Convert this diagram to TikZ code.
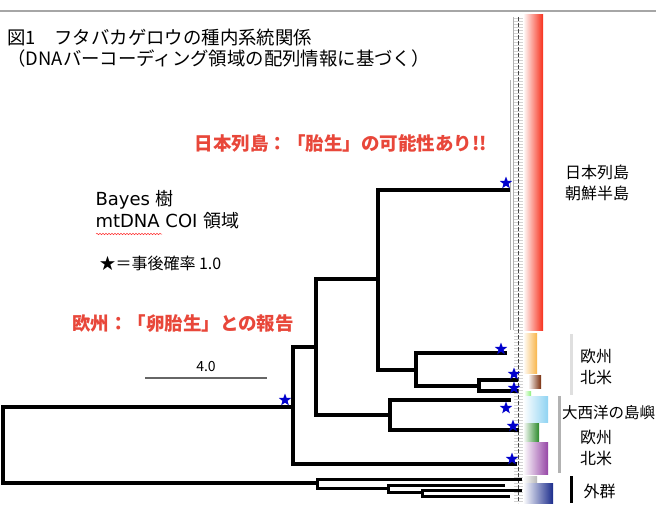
\documentclass[tikz,border=0pt]{standalone}
\usepackage{fontspec}
\setmainfont{Noto Sans CJK JP}
\newfontfamily\latinfont{DejaVu Sans}
\usetikzlibrary{shapes.geometric,positioning,calc,decorations.pathmorphing}
\usepackage{xcolor}
\definecolor{notered}{HTML}{E8473A}
\definecolor{cred}{HTML}{F7301C}
\definecolor{corange}{HTML}{F8B54A}
\definecolor{cbrown}{HTML}{7A2E0C}
\definecolor{clgreen}{HTML}{8CF07A}
\definecolor{clblue}{HTML}{8FD3F2}
\definecolor{cgreen}{HTML}{2C8A2C}
\definecolor{cpurple}{HTML}{9646A6}
\definecolor{cgray}{HTML}{B8B8B8}
\definecolor{cnavy}{HTML}{1B2C8C}
\tikzstyle{branch}=[draw,line width=3.2pt,line join=miter,black]
\tikzstyle{out branch}=[branch,line width=3pt]
\tikzstyle{fine}=[draw,gray!60,line width=0.5pt]
\tikzstyle{post}=[star,star points=5,star point ratio=2.4,fill=blue!80!black,minimum size=13pt,inner sep=0pt]
\tikzstyle{note}=[text=notered,font=\bfseries\fontsize{18.5}{22}\selectfont]
\tikzstyle{title}=[font=\fontsize{18.4}{21}\selectfont,align=left]
\tikzstyle{info}=[font=\fontsize{18}{22}\selectfont,align=left]
\tikzstyle{region}=[font=\fontsize{16}{21}\selectfont,align=center]
\tikzstyle{region bar}=[draw,line width=3pt]

\begin{document}
\begin{tikzpicture}[x=1pt,y=-1pt]
    \useasboundingbox (0,0) rectangle (656,508);
    \draw[gray!70,line width=1.2pt] (0,11) -- (656,11);

    % Texts
    \node[title,anchor=north west] (title) at (4,26) {図1　フタバカゲロウの種内系統関係\\（DNAバーコーディング領域の配列情報に基づく）};
    \node[note] (jp_note) at (341,143) {日本列島：「胎生」の可能性あり!!};
    \node[note] (eu_note) at (183,324) {欧州：「卵胎生」との報告};
    \node[info,anchor=north west] (bayes) at (92,187) {{\latinfont Bayes }樹\\{\latinfont mtDNA COI }領域};
    \node[info,font=\fontsize{16}{19}\selectfont,anchor=west] (pp) at (96,263) {★＝事後確率 1.0};
    \draw[red!80,line width=0.5pt,decorate,decoration={snake,amplitude=0.7pt,segment length=3pt}] (96,234) -- (162,234);

    % Scale bar
    \coordinate (sb_l) at (145,378);
    \coordinate (sb_r) at (267,378);
    \draw[gray!80!black,line width=1.4pt] (sb_l) -- (sb_r) node[midway,above=2pt,text=black,font=\fontsize{14}{16}\selectfont] (sb_label) {4.0};

    % Clade bars
    \foreach \xa/\ya/\xb/\yb/\col in {523/15/543/330/cred, 523/333/537/373/corange, 528/375/541/388/cbrown,
                                      524/391/531/395/clgreen, 523/396/548/422/clblue, 523/423/539/441/cgreen,
                                      523/442/548/474/cpurple, 523/476/537/482/cgray, 523/483/553/503/cnavy}
        \shade[left color=white,right color=\col] (\xa,\ya) rectangle (\xb,\yb);

    % Fine tips
    \foreach \y in {18,21,...,502}
        \path[fine,gray!35] (514,\y) -- (523,\y);
    \path[fine] (513,17) -- (513,330);
    \path[fine] (510,80) -- (510,330);
    \draw[gray!55!black,line width=0.9pt,dash pattern=on 4pt off 2pt] (518,17) -- (518,503);

    % Nodes
    \foreach \pos/\name in {{(3,445)/r}, {(293,407)/a}, {(316,347)/b}, {(378,279)/c}, {(416,370)/e},
                            {(479,386)/f}, {(390,415)/d}, {(317,483)/h}, {(388,488)/i}, {(422,492)/j},
                            {(510,190)/jp}, {(507,353)/or}, {(518,380)/br}, {(518,391)/lg}, {(511,400)/lb},
                            {(519,430)/gr}, {(517,464)/pu}, {(522,479)/og1}, {(505,485)/og2}, {(522,490)/og3}, {(510,496)/og4}}
        \node[coordinate] (\name) at \pos {};

    % Branches
    \foreach \source/\dest in {r/a, r/h, a/b, a/pu, b/c, b/d, c/jp, c/e, e/or, e/f, f/br, f/lg, d/lb, d/gr}
        \path[branch] (\source) |- (\dest);
    \foreach \source/\dest in {h/og1, h/i, i/og2, i/j, j/og3, j/og4}
        \path[out branch] (\source) |- (\dest);

    % Posterior stars
    \foreach \vertex/\dx/\dy in {a/-8/-7, jp/-4/-7, or/-6/-4, br/-4/-6, lg/-4/-3,
                                 lb/-5/8, gr/-6/-4, pu/-5/-5}
        \node[post] (s_\vertex) at ($(\vertex)+(\dx,\dy)$) {};

    % Regions
    \path[region bar,gray!25] (571,334) -- (571,395);
    \path[region bar,gray!60] (559,396) -- (559,473);
    \path[region bar,black] (571,476) -- (571,503);
    \node[region] (lab_jp) at (597,183) {日本列島\\朝鮮半島};
    \node[region] (lab_eu) at (596,367) {欧州\\北米};
    \node[region,anchor=west,inner sep=0pt,font=\fontsize{15.5}{20}\selectfont] (lab_atl) at (562,413) {大西洋の島嶼};
    \node[region] (lab_eu2) at (596,448) {欧州\\北米};
    \node[region,anchor=west] (lab_out) at (580,491) {外群};
\end{tikzpicture}
\end{document}
